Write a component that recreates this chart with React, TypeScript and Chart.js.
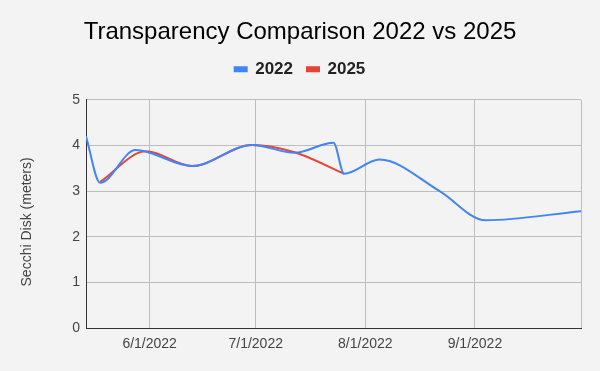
import React, { useEffect, useRef } from 'react';
import { Chart, registerables } from 'chart.js';

Chart.register(...registerables);

// ---- Data ----
const dates2022 = [
  '2022-05-14', '2022-05-18', '2022-05-28', '2022-06-13', '2022-06-30', '2022-07-12',
  '2022-07-23', '2022-07-26', '2022-08-05', '2022-08-22', '2022-09-04', '2022-10-01',
];
const values2022 = [4.2, 3.18, 3.9, 3.55, 4.01, 3.84, 4.06, 3.38, 3.69, 3.0, 2.36, 2.56];

const dates2025 = ['2022-05-18', '2022-05-31', '2022-06-13', '2022-06-30', '2022-07-12', '2022-07-26'];
const values2025 = [3.2, 3.87, 3.55, 4.01, 3.85, 3.38];

const xTickDates = ['2022-06-01', '2022-07-01', '2022-08-01', '2022-09-01'];
const xMinDate = '2022-05-14';
const xMaxDate = '2022-10-01';
const yTicks = [0, 1, 2, 3, 4, 5];

const seriesNames = ['2022', '2025'];
const titleText = 'Transparency Comparison 2022 vs 2025';
const yAxisTitle = 'Secchi Disk (meters)';

const DAY = 86400000;
const dayNum = (s: string) => {
  const [y, m, d] = s.split('-').map(Number);
  return Date.UTC(y, m - 1, d) / DAY;
};
const fmtDay = (n: number) => {
  const dt = new Date(Math.round(n) * DAY);
  return `${dt.getUTCMonth() + 1}/${dt.getUTCDate()}/${dt.getUTCFullYear()}`;
};

const FONT = "'Liberation Sans', Arial, sans-serif";

const legendSpacer = {
  id: 'legendSpacer',
  beforeInit(chart: any) {
    const legend = chart.legend;
    if (!legend) return;
    const orig = legend.fit;
    legend.fit = function () {
      orig.call(this);
      this.height = 53;
    };
  },
};

// y-axis title, placed the way the reference places it (slightly below the plot centre)
const yTitlePlugin = {
  id: 'yTitlePlugin',
  afterDraw(chart: any) {
    const { ctx, chartArea } = chart;
    ctx.save();
    ctx.translate(27.5, (chartArea.top + chartArea.bottom) / 2 + 8);
    ctx.rotate(-Math.PI / 2);
    ctx.font = `14px ${FONT}`;
    ctx.fillStyle = '#444';
    ctx.textAlign = 'center';
    ctx.textBaseline = 'middle';
    ctx.fillText(yAxisTitle, 0, 0);
    ctx.restore();
  },
};

export default function App() {
  const ref = useRef<HTMLCanvasElement | null>(null);

  useEffect(() => {
    if (!ref.current) return;
    const xMin = dayNum(xMinDate);
    const xMax = dayNum(xMaxDate);
    const tickVals = [xMin, ...xTickDates.map(dayNum), xMax];

    const chart = new Chart(ref.current, {
      type: 'line',
      data: {
        datasets: [
          {
            label: seriesNames[0],
            data: dates2022.map((d, i) => ({ x: dayNum(d), y: values2022[i] })),
            borderColor: '#4285f4',
            backgroundColor: '#4285f4',
            borderWidth: 2,
            pointRadius: 0,
            cubicInterpolationMode: 'monotone',
          },
          {
            label: seriesNames[1],
            data: dates2025.map((d, i) => ({ x: dayNum(d), y: values2025[i] })),
            borderColor: '#ea4335',
            backgroundColor: '#ea4335',
            borderWidth: 2,
            pointRadius: 0,
            cubicInterpolationMode: 'monotone',
          },
        ],
      },
      options: {
        responsive: false,
        animation: false,
        devicePixelRatio: 1,
        layout: { padding: { left: 19, right: 19, top: 0, bottom: 0 } },
        plugins: {
          title: {
            display: true,
            text: titleText,
            color: '#000',
            font: { family: FONT, size: 24, weight: 'normal' },
            padding: { top: 18, bottom: 0 },
          },
          legend: {
            display: true,
            position: 'top',
            labels: {
              boxWidth: 12,
              boxHeight: 4,
              padding: 14,
              color: '#222',
              font: { family: FONT, size: 17, weight: 'bold' },
            },
          },
          tooltip: { enabled: false },
        },
        scales: {
          x: {
            type: 'linear',
            min: xMin,
            max: xMax,
            afterBuildTicks: (scale: any) => {
              scale.ticks = tickVals.map((v) => ({ value: v }));
            },
            afterFit: (scale: any) => {
              scale.height = 43;
            },
            ticks: {
              autoSkip: false,
              maxRotation: 0,
              padding: 8,
              color: '#444',
              font: { family: FONT, size: 14 },
              callback: (v: any) => (v === xMin || v === xMax ? '' : fmtDay(Number(v))),
            },
            grid: { color: '#bdbdbd', drawTicks: false, lineWidth: 1 },
            border: { color: '#333', width: 1 },
          },
          y: {
            min: 0,
            max: 5,
            afterBuildTicks: (scale: any) => {
              scale.ticks = yTicks.map((v) => ({ value: v }));
            },
            afterFit: (scale: any) => {
              scale.width = 67;
            },
            ticks: {
              padding: 6,
              color: '#444',
              font: { family: FONT, size: 14 },
            },
            grid: { color: '#bdbdbd', drawTicks: false, lineWidth: 1 },
            border: { color: '#333', width: 1 },
          },
        },
      },
      plugins: [legendSpacer, yTitlePlugin],
    } as any);

    return () => chart.destroy();
  }, []);

  return (
    <div style={{ position: 'fixed', left: 0, top: 0, width: 600, height: 371, background: '#f3f3f3' }}>
      <canvas ref={ref} width={600} height={371} style={{ width: 600, height: 371, display: 'block' }} />
    </div>
  );
}
